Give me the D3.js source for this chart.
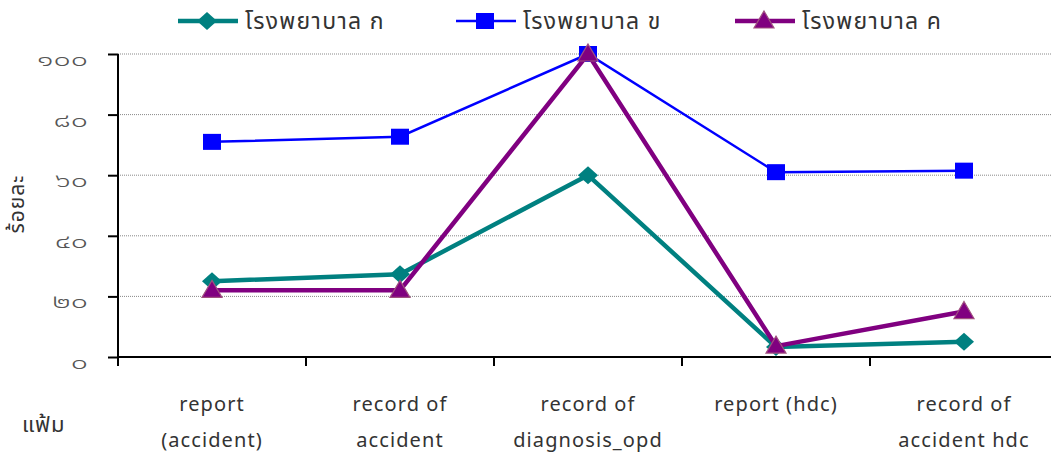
<!DOCTYPE html>
<html><head><meta charset="utf-8">
<script src="https://cdn.jsdelivr.net/npm/d3@7"></script>
<style>
body{margin:0;background:#fff;}
svg text{font-family:"Noto Sans Thai","Leelawadee UI","Tahoma","Open Sans","Noto Sans",sans-serif;}
</style></head>
<body><svg id="c" width="1051" height="455"></svg>
<script>
const categories = [["report","(accident)"],["record of","accident"],["record of","diagnosis_opd"],["report (hdc)",""],["record of","accident hdc"]];
const seriesNames = ["โรงพยาบาล ก","โรงพยาบาล ข","โรงพยาบาล ค"];
const hospitalA = [25, 27.3, 60, 3.3, 5];
const hospitalB = [71, 72.7, 100, 61, 61.5];
const hospitalC = [22, 22, 100, 3.6, 15];
const yTicks = [0,20,40,60,80,100];
const yTickLabels = ["๐","๒๐","๔๐","๖๐","๘๐","๑๐๐"];
const yTitle = "ร้อยละ";
const xTitle = "แฟ้ม";

const svg = d3.select("#c");
const x = d3.scaleBand().domain(d3.range(categories.length)).range([118,1058]);
const y = d3.scaleLinear().domain([0,100]).range([357,54]);

// gridlines
svg.append("g").selectAll("line").data(yTicks.filter(d=>d>0)).join("line")
  .attr("x1",118).attr("x2",1051).attr("y1",d=>y(d)).attr("y2",d=>y(d))
  .attr("stroke","#888").attr("stroke-width",1).attr("stroke-dasharray","1,1");

// y axis
const yAxis = svg.append("g").attr("transform","translate(118,0)")
  .call(d3.axisLeft(y).tickValues(yTicks).tickFormat((d,i)=>yTickLabels[i]).tickSize(10).tickPadding(18));
yAxis.select(".domain").attr("stroke","#000").attr("stroke-width",2).attr("d","M0,54V366");
yAxis.selectAll(".tick line").attr("stroke","#000").attr("stroke-width",2);
yAxis.selectAll(".tick text").attr("font-size",19).attr("fill","#555").attr("font-weight",300)
  .attr("x",-30/1.6).attr("dy","0.6em").attr("transform","scale(1.6,1)")
  .attr("font-family","Noto Sans Thai, Tahoma, sans-serif");

// x axis
const xAxis = svg.append("g").attr("transform","translate(0,357)")
  .call(d3.axisBottom(x).tickValues([]).tickSizeOuter(0));
xAxis.select(".domain").attr("stroke","#000").attr("stroke-width",2).attr("d","M118,0H1051");
const bounds = d3.range(categories.length).map(i=>x(i));
xAxis.selectAll(".bt").data(bounds).join("line").attr("class","bt")
  .attr("x1",d=>d).attr("x2",d=>d).attr("y1",0).attr("y2",9).attr("stroke","#000").attr("stroke-width",2);

// x labels
const xl = svg.append("g").selectAll("text").data(categories).join("text")
  .attr("text-anchor","middle").attr("font-size",20).attr("letter-spacing",1.1).attr("fill","#333")
  .attr("font-family","Open Sans, sans-serif");
xl.each(function(d,i){
  const t=d3.select(this); const cx=x(i)+x.bandwidth()/2;
  t.append("tspan").attr("x",cx).attr("y",411).text(d[0]);
  t.append("tspan").attr("x",cx).attr("y",447).text(d[1]);
});
svg.append("text").attr("x",22).attr("y",432).attr("font-size",22).attr("letter-spacing",1).attr("fill","#333").text(xTitle);
svg.append("text").attr("transform","translate(24,204) rotate(-90)").attr("text-anchor","middle")
  .attr("font-size",21).attr("letter-spacing",1).attr("fill","#333").text(yTitle);

const series = [
  {name:seriesNames[0], vals:hospitalA, color:"#008080", w:4.5, shape:"diamond"},
  {name:seriesNames[1], vals:hospitalB, color:"#0000ff", w:2.5, shape:"square"},
  {name:seriesNames[2], vals:hospitalC, color:"#800080", w:4.5, shape:"triangle"}
];
function marker(g, shape, color, cx, cy){
  if(shape==="diamond") g.append("path").attr("d",`M${cx},${cy-9}L${cx+10},${cy}L${cx},${cy+9}L${cx-10},${cy}Z`).attr("fill",color);
  else if(shape==="square") g.append("rect").attr("x",cx-9).attr("y",cy-8).attr("width",18).attr("height",16).attr("fill",color);
  else g.append("path").attr("d",`M${cx},${cy-10}L${cx+10},${cy+7}L${cx-10},${cy+7}Z`).attr("fill",color).attr("stroke","#a0507f").attr("stroke-width",1.2);
}
const line = d3.line().x((d,i)=>x(i)+x.bandwidth()/2).y(d=>y(d));
series.forEach(s=>{
  const g=svg.append("g");
  g.append("path").attr("d",line(s.vals)).attr("fill","none").attr("stroke",s.color).attr("stroke-width",s.w);
  s.vals.forEach((v,i)=>marker(g,s.shape,s.color,x(i)+x.bandwidth()/2,y(v)));
});

// legend
const legX=[178,456,735];
series.forEach((s,i)=>{
  const g=svg.append("g");
  g.append("line").attr("x1",legX[i]).attr("x2",legX[i]+60).attr("y1",21).attr("y2",21).attr("stroke",s.color).attr("stroke-width",s.w);
  marker(g,s.shape,s.color,legX[i]+29,21);
  g.append("text").attr("x",legX[i]+67).attr("y",29).attr("font-size",23).attr("letter-spacing",1.3).attr("fill","#333").text(s.name);
});
</script></body></html>
